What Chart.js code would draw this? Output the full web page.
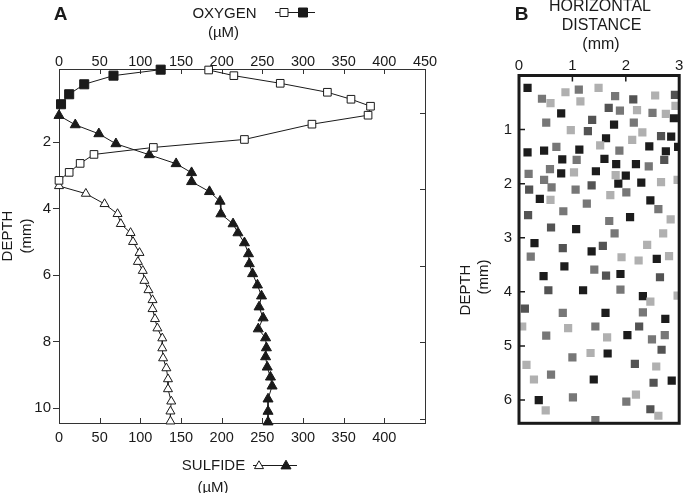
<!DOCTYPE html>
<html><head><meta charset="utf-8">
<script src="https://cdn.jsdelivr.net/npm/chart.js@4"></script>
<style>
html,body{margin:0;padding:0;background:#fff;}
#wrap{position:relative;width:685px;height:493px;overflow:hidden;font-family:"Liberation Sans",Arial,Helvetica,sans-serif;color:#1a1a1a;}
#boxA{position:absolute;left:0;top:0;width:470px;height:493px;}
#boxB{position:absolute;left:440px;top:0;width:245px;height:493px;}
.t{position:absolute;transform:translate(-50%,-50%);white-space:nowrap;font-size:15px;line-height:1;}
.b16{font-size:16px;}
.r{transform:translate(-50%,-50%) rotate(-90deg);}
.pl{font-weight:bold;font-size:19px;}
</style></head>
<body>
<div id="wrap">
  <div id="boxA"><canvas id="cA" width="470" height="493"></canvas></div>
  <div id="boxB"><canvas id="cB" width="245" height="493"></canvas></div>
  <div class="t pl" style="left:60.5px;top:13px;">A</div>
  <div class="t" style="left:224.5px;top:11.5px;">OXYGEN</div>
  <div class="t" style="left:223.5px;top:31px;">(µM)</div>
  <div class="t" style="left:213.5px;top:464px;">SULFIDE</div>
  <div class="t" style="left:213px;top:486px;">(µM)</div>
  <div class="t r" style="left:6px;top:236px;">DEPTH</div>
  <div class="t r" style="left:25px;top:236px;">(mm)</div>
  <div class="t pl" style="left:521.5px;top:13px;">B</div>
  <div class="t b16" style="left:600px;top:6px;">HORIZONTAL</div>
  <div class="t b16" style="left:601.5px;top:25px;">DISTANCE</div>
  <div class="t b16" style="left:601px;top:44px;">(mm)</div>
  <div class="t r" style="left:464px;top:290px;">DEPTH</div>
  <div class="t r" style="left:482px;top:277px;">(mm)</div>
</div>
<script>
// ---------- Panel A data: [concentration (µM), depth (mm)] ----------
const oxygenOpen = [[184,-0.17],[215,0.0],[272,0.23],[330,0.5],[359,0.71],[383,0.92],[380,1.19],[311,1.46],[228,1.92],[116,2.16],[43,2.37],[26,2.64],[12.5,2.91],[0,3.15]];
const oxygenFilled = [[125,-0.18],[67,0.0],[31,0.26],[12.5,0.56],[2.5,0.86]];
const sulfideOpen = [[0,3.32],[33,3.55],[56,3.86],[72,4.16],[76,4.46],[88,4.73],[91,5.0],[99,5.33],[97,5.6],[103,5.87],[105,6.17],[110,6.45],[115,6.75],[115,7.02],[118,7.32],[121,7.6],[127,7.9],[127,8.2],[128,8.5],[132,8.8],[134,9.13],[134,9.43],[138,9.8],[137,10.1],[137,10.4]];
const sulfideFilled = [[0,1.2],[20,1.48],[49,1.75],[70,2.05],[111,2.38],[144,2.65],[163,2.92],[163,3.19],[185,3.49],[198,3.78],[199,4.16],[214,4.46],[220,4.73],[228,5.03],[233,5.36],[234,5.66],[238,5.96],[244,6.3],[249,6.63],[246,6.96],[251,7.29],[245,7.62],[254,7.89],[255,8.19],[254,8.46],[256,8.77],[260,9.07],[262,9.34],[257,9.73],[257,10.1],[257,10.42]];
const oxygenTicks = [0,50,100,150,200,250,300,350,400,450];
const sulfideTicks = [0,50,100,150,200,250,300,350,400];
const depthTicksA = [2,4,6,8,10];
const rightTicksA = [1.13,3.42,5.72,8.02,10.32];

// ---------- Panel B data: [horizontal distance (mm), depth (mm)] ----------
const blackSquares = [[0.16,0.23],[0.79,0.70],[2.90,0.79],[1.78,0.91],[1.63,1.16],[2.85,1.13],[0.16,1.42],[0.47,1.39],[1.13,1.37],[2.44,1.31],[2.75,1.40],[2.98,1.32],[0.81,1.55],[1.60,1.54],[1.82,1.64],[2.19,1.64],[0.79,1.81],[1.44,1.77],[2.00,1.85],[1.86,2.00],[2.29,1.98],[0.39,2.28],[2.46,2.31],[2.08,2.62],[1.07,2.84],[0.29,3.10],[1.36,3.25],[2.58,3.39],[0.85,3.53],[0.46,3.71],[1.90,3.67],[1.20,3.97],[2.32,4.08],[1.62,4.39],[2.74,4.50],[2.03,4.80],[1.66,5.14],[1.40,5.62],[2.86,5.64],[0.37,6.00]];
const darkSquares = [[2.14,0.44],[2.92,0.36],[1.68,0.60],[1.37,0.82],[1.29,1.03],[2.66,1.12],[2.72,1.56],[0.19,2.11],[1.36,2.03],[0.17,2.58],[0.60,2.81],[0.82,3.19],[1.57,3.15],[1.63,3.70],[2.64,3.73],[0.55,3.97],[0.11,4.31],[2.25,4.64],[2.67,5.07],[2.17,5.33],[2.52,5.68],[2.46,6.17]];
const midSquares = [[0.43,0.43],[1.12,0.26],[1.80,0.38],[1.89,0.65],[2.50,0.69],[0.51,0.87],[2.15,0.87],[0.70,1.32],[1.88,1.39],[1.08,1.56],[0.18,1.82],[0.58,1.73],[2.43,1.68],[0.47,1.93],[0.61,2.07],[1.06,2.11],[2.01,2.16],[1.27,2.37],[2.61,2.47],[0.83,2.51],[1.69,2.69],[1.79,2.92],[0.22,3.35],[1.41,3.59],[1.90,3.96],[0.82,4.39],[2.32,4.38],[1.43,4.64],[0.51,4.81],[2.49,4.88],[2.73,4.80],[1.00,5.21],[0.60,5.53],[1.01,5.95],[2.01,6.03],[1.43,6.37]];
const lightSquares = [[0.59,0.51],[0.87,0.31],[1.49,0.23],[1.15,0.48],[2.55,0.37],[2.21,0.64],[2.75,0.71],[2.93,0.56],[0.97,1.01],[2.31,1.05],[2.12,1.19],[1.52,1.29],[1.03,1.79],[1.81,1.84],[2.66,1.97],[2.97,1.93],[1.71,2.21],[0.59,2.30],[2.84,2.66],[2.70,2.92],[2.40,3.13],[1.92,3.36],[2.24,3.42],[2.81,3.34],[2.46,4.18],[2.97,4.07],[0.06,4.64],[0.92,4.67],[1.65,4.84],[1.34,5.13],[0.14,5.35],[2.57,5.38],[0.28,5.62],[2.19,5.90],[0.50,6.19],[2.61,6.29]];
const distanceTicks = [0,1,2,3];
const depthTicksB = [1,2,3,4,5,6];

const FONT = "'Liberation Sans', Arial, Helvetica, sans-serif";
const INK = '#1a1a1a';
const toXY = arr => arr.map(p => ({x:p[0], y:p[1]}));
const setTicks = list => (s => { s.ticks = list.map(v => ({value:v})); });

function square(ctx, x, y, s, fill){
  ctx.beginPath(); ctx.rect(x - s/2, y - s/2, s, s);
  ctx.fillStyle = fill; ctx.fill(); ctx.lineWidth = 1; ctx.strokeStyle = INK; ctx.stroke();
}
function triangle(ctx, x, y, r, fill){
  ctx.beginPath();
  for (let i = 0; i < 3; i++){ const a = i*2*Math.PI/3; const px = x + Math.sin(a)*r, py = y - Math.cos(a)*r; i ? ctx.lineTo(px,py) : ctx.moveTo(px,py); }
  ctx.closePath(); ctx.fillStyle = fill; ctx.fill(); ctx.lineWidth = 1; ctx.strokeStyle = INK; ctx.stroke();
}

const decoA = {
  id:'decoA',
  beforeDatasetsDraw(chart){
    const {ctx, chartArea:a, scales} = chart;
    ctx.save();
    ctx.strokeStyle = '#333'; ctx.lineWidth = 1;
    ctx.strokeRect(Math.round(a.left)+0.5, Math.round(a.top)+0.5, Math.round(a.right-a.left), Math.round(a.bottom-a.top));
    ctx.beginPath();
    scales.x.ticks.forEach(t => { if (t.value > 0 && t.value < 450){ const x = Math.round(scales.x.getPixelForValue(t.value))+0.5; ctx.moveTo(x, a.top); ctx.lineTo(x, a.top+5);} });
    scales.x2.ticks.forEach(t => { if (t.value > 0){ const x = Math.round(scales.x2.getPixelForValue(t.value))+0.5; ctx.moveTo(x, a.bottom); ctx.lineTo(x, a.bottom-5);} });
    rightTicksA.forEach(v => { const y = Math.round(scales.y.getPixelForValue(v))+0.5; ctx.moveTo(a.right, y); ctx.lineTo(a.right-5, y); });
    ctx.stroke();
    ctx.restore();
  },
  afterDraw(chart){
    const ctx = chart.ctx;
    ctx.save();
    ctx.strokeStyle = INK; ctx.lineWidth = 1;
    ctx.beginPath(); ctx.moveTo(275, 12.5); ctx.lineTo(315, 12.5); ctx.stroke();
    square(ctx, 284, 12.5, 8, '#fff');
    square(ctx, 303, 12.5, 9, INK);
    ctx.beginPath(); ctx.moveTo(253, 465.5); ctx.lineTo(297, 465.5); ctx.stroke();
    triangle(ctx, 259, 466, 5.2, '#fff');
    triangle(ctx, 286, 466, 5.8, INK);
    ctx.restore();
  }
};

const lineBase = {showLine:true, borderColor:INK, borderWidth:1, pointBorderColor:INK, pointBorderWidth:1, clip:false, pointHoverRadius:0};

new Chart(document.getElementById('cA'), {
  type:'scatter',
  data:{datasets:[
    Object.assign({label:'Oxygen (open)', data:toXY(oxygenOpen), xAxisID:'x', yAxisID:'y', pointStyle:'rect', pointRadius:5.4, pointBackgroundColor:'#fff'}, lineBase),
    Object.assign({label:'Oxygen (filled)', data:toXY(oxygenFilled), xAxisID:'x', yAxisID:'y', pointStyle:'rect', pointRadius:6.4, pointBackgroundColor:INK}, lineBase),
    Object.assign({label:'Sulfide (open)', data:toXY(sulfideOpen), xAxisID:'x2', yAxisID:'y', pointStyle:'triangle', pointRadius:5.2, pointBackgroundColor:'#fff'}, lineBase),
    Object.assign({label:'Sulfide (filled)', data:toXY(sulfideFilled), xAxisID:'x2', yAxisID:'y', pointStyle:'triangle', pointRadius:5.8, pointBackgroundColor:INK}, lineBase)
  ]},
  options:{
    responsive:false, animation:false, events:[],
    layout:{padding:{left:0, top:0, right:45, bottom:0}},
    plugins:{legend:{display:false}, tooltip:{enabled:false}},
    scales:{
      x:{type:'linear', position:'top', min:0, max:450, afterBuildTicks:setTicks(oxygenTicks), afterFit:s=>{s.height=69;},
         grid:{display:false, drawTicks:false}, border:{display:false},
         ticks:{font:{family:FONT, size:14.5}, color:INK, padding:-2, maxRotation:0, autoSkip:false}},
      x2:{type:'linear', position:'bottom', min:0, max:450, afterBuildTicks:setTicks(sulfideTicks), afterFit:s=>{s.height=70;},
         grid:{display:false, drawTicks:false}, border:{display:false},
         ticks:{font:{family:FONT, size:14.5}, color:INK, padding:6, maxRotation:0, autoSkip:false}},
      y:{type:'linear', position:'left', reverse:true, min:-0.2, max:10.45, afterBuildTicks:setTicks(depthTicksA), afterFit:s=>{s.width=59;},
         grid:{display:true, drawOnChartArea:false, drawTicks:true, tickLength:6, color:'#333', lineWidth:1}, border:{display:false},
         ticks:{font:{family:FONT, size:15}, color:INK, padding:2}}
    }
  },
  plugins:[decoA]
});

const decoB = {
  id:'decoB',
  afterDatasetsDraw(chart){
    const {ctx, chartArea:a, scales} = chart;
    ctx.save();
    ctx.strokeStyle = INK; ctx.lineWidth = 1.5;
    ctx.beginPath();
    scales.x.ticks.forEach(t => { if (t.value > 0 && t.value < 3){ const x = scales.x.getPixelForValue(t.value); ctx.moveTo(x, a.top); ctx.lineTo(x, a.top+6);} });
    scales.y.ticks.forEach(t => { const y = scales.y.getPixelForValue(t.value); ctx.moveTo(a.left, y); ctx.lineTo(a.left+6, y); });
    ctx.stroke();
    ctx.lineWidth = 3;
    ctx.strokeRect(a.left, a.top, a.right-a.left, a.bottom-a.top);
    ctx.restore();
  }
};

const sq = (label, arr, color) => ({label, data:toXY(arr), pointStyle:'rect', pointRadius:5.8, pointBackgroundColor:color, pointBorderWidth:0, pointBorderColor:color, showLine:false, pointHoverRadius:0});

new Chart(document.getElementById('cB'), {
  type:'scatter',
  data:{datasets:[
    sq('Light', lightSquares, '#b0b0b0'),
    sq('Mid', midSquares, '#777777'),
    sq('Dark', darkSquares, '#535353'),
    sq('Black', blackSquares, '#1c1c1c')
  ]},
  options:{
    responsive:false, animation:false, events:[],
    layout:{padding:{left:0, top:0, right:3.5, bottom:0}},
    plugins:{legend:{display:false}, tooltip:{enabled:false}},
    scales:{
      x:{type:'linear', position:'top', min:0, max:3, afterBuildTicks:setTicks(distanceTicks), afterFit:s=>{s.height=75.5;},
         grid:{display:false, drawTicks:false}, border:{display:false},
         ticks:{font:{family:FONT, size:15}, color:INK, padding:0.5, maxRotation:0, autoSkip:false}},
      y:{type:'linear', position:'left', reverse:true, min:0, max:6.43, afterBuildTicks:setTicks(depthTicksB), afterFit:s=>{s.width=79;},
         grid:{display:false, drawTicks:false}, border:{display:false},
         ticks:{font:{family:FONT, size:15}, color:INK, padding:7}},
      xb:{type:'linear', position:'bottom', display:true, afterFit:s=>{s.height=69.7;}, ticks:{display:false}, grid:{display:false, drawTicks:false}, border:{display:false}}
    }
  },
  plugins:[decoB]
});
</script>
</body></html>
